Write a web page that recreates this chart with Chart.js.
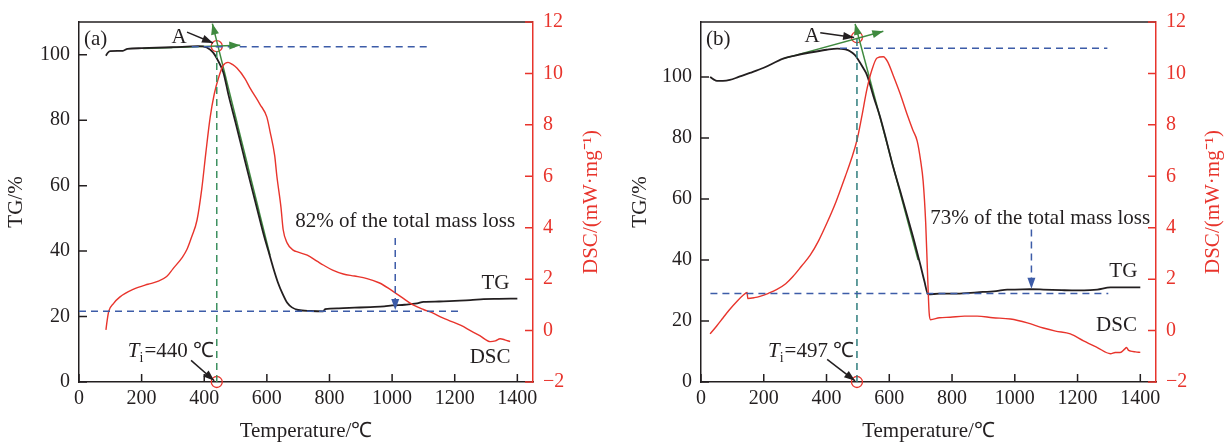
<!DOCTYPE html>
<html lang="en">
<head>
<meta charset="UTF-8">
<title>TG-DSC curves</title>
<script src="https://cdn.jsdelivr.net/npm/chart.js"></script>
<style>
  body { margin: 0; background: #fff; }
  .panel { position: absolute; top: 0; height: 444px; }
  #panelA { left: 0; width: 610px; }
  #panelB { left: 610px; width: 619px; }
</style>
</head>
<body>
<div class="panel" id="panelA"><canvas id="chartA" width="610" height="444"></canvas></div>
<div class="panel" id="panelB"><canvas id="chartB" width="619" height="444"></canvas></div>
<script>
// axis ticks
const tempTicks = [0, 200, 400, 600, 800, 1000, 1200, 1400];
const tgTicks = [0, 20, 40, 60, 80, 100];
const dscTicks = [-2, 0, 2, 4, 6, 8, 10, 12];

// sample (a)
const tempTgA = [86, 92, 100, 140, 155, 200, 300, 380, 408, 428, 444, 461, 478, 500, 524, 550, 570, 590, 605, 620,
  635, 650, 665, 680, 700, 740, 780, 786, 830, 880, 930, 975, 1000, 1040, 1080, 1100, 1150, 1200, 1250, 1292, 1340, 1400];
const tgA = [99.7, 100.6, 101.1, 101.2, 101.8, 102.0, 102.3, 102.6, 102.2, 100.7, 98.2, 94.6, 87.5, 79.3, 70.0, 60.0, 52.5, 45.0, 40.0, 35.0,
  30.5, 27.0, 24.2, 22.8, 22.0, 21.7, 21.6, 22.3, 22.5, 22.7, 22.9, 23.1, 23.4, 23.6, 24.0, 24.5, 24.6, 24.8, 25.0, 25.3, 25.4, 25.5];
const tempDscA = [86, 90, 95, 110, 130, 173, 220, 249, 280, 300, 330, 345, 360, 377, 392, 405, 419, 432, 445, 460,
  476, 490, 505, 530, 546, 578, 600, 610, 625, 632, 645, 652, 665, 684, 700, 729, 760, 780, 810, 844,
  880, 920, 960, 994, 1030, 1067, 1100, 1131, 1160, 1186, 1220, 1250, 1280, 1314, 1330, 1345, 1360, 1377];
const dscA = [0.03, 0.4, 0.75, 1.05, 1.3, 1.6, 1.8, 1.9, 2.1, 2.4, 2.85, 3.16, 3.65, 4.3, 5.5, 6.9, 8.3, 9.2, 9.8, 10.3,
  10.43, 10.35, 10.2, 9.8, 9.44, 8.8, 8.3, 7.75, 6.8, 6.0, 4.8, 3.93, 3.4, 3.13, 3.05, 2.93, 2.7, 2.55, 2.35, 2.2,
  2.12, 2.02, 1.85, 1.6, 1.3, 1.0, 0.82, 0.68, 0.5, 0.37, 0.2, 0.0, -0.2, -0.43, -0.40, -0.32, -0.36, -0.43];
const onsetA = 440;
const pointA_A = 102.6;
const plateauA = [360, 1120, 102.4];
const residueA = [0, 1218, 21.6];
const lossArrowA = [1010, 44, 22];
const steepTangentA = [[610, 38.7], [426, 109.5]];
const flatTangentA = [[205, 101.9], [515, 102.9]];

// sample (b)
const tempTgB = [29, 40, 51, 70, 92, 120, 156, 200, 262, 300, 348, 400, 434, 460, 475, 490, 500, 517, 529, 550,
  571, 590, 612, 635, 657, 680, 699, 712, 724, 760, 816, 880, 940, 976, 1000, 1049, 1091, 1150, 1199, 1240, 1263, 1305, 1350, 1400];
const tgB = [100, 99.2, 98.7, 98.7, 99.0, 100.0, 101.3, 103.0, 106.0, 107.0, 108.0, 108.9, 109.3, 109.0, 108.4, 107.2, 105.8, 102.9, 100.6, 93.5,
  86.8, 79.5, 70.6, 62.5, 54.5, 46.0, 38.4, 33.0, 28.7, 29.0, 29.0, 29.4, 29.8, 30.3, 30.3, 30.4, 30.3, 30.1, 30.0, 30.1, 30.3, 31.0, 31.0, 31.0];
const tempDscB = [29, 50, 70, 90, 115, 135, 147, 149, 170, 188, 215, 242, 270, 293, 320, 348, 375, 402, 430, 460,
  480, 497, 512, 529, 545, 561, 581, 595, 612, 635, 657, 675, 689, 700, 708, 716, 722, 727, 731, 760,
  794, 840, 880, 930, 986, 1040, 1091, 1130, 1177, 1219, 1263, 1305, 1320, 1336, 1350, 1356, 1362, 1369, 1385, 1400];
const dscB = [-0.13, 0.18, 0.49, 0.8, 1.14, 1.38, 1.48, 1.25, 1.28, 1.33, 1.45, 1.6, 1.82, 2.1, 2.5, 2.93, 3.5, 4.2, 5.0, 6.0,
  6.7, 7.4, 8.3, 9.4, 10.15, 10.6, 10.65, 10.45, 9.94, 9.2, 8.4, 7.8, 7.37, 6.6, 5.8, 4.2, 2.2, 0.7, 0.42, 0.5,
  0.52, 0.56, 0.56, 0.5, 0.45, 0.3, 0.1, -0.02, -0.13, -0.4, -0.66, -0.9, -0.85, -0.85, -0.72, -0.66, -0.76, -0.8, -0.83, -0.85];
const onsetB = 497;
const pointA_B = 113;
const plateauB = [443, 1295, 109.4];
const residueB = [30, 1298, 29.0];
const lossArrowB = [1053, 50, 30.6];
const steepTangentB = [[692, 40], [491, 117.4]];
const flatTangentB = [[262, 106], [581, 115]];

const SERIF = '"Liberation Serif", "Times New Roman", serif';
const INK = '#231f20';
const RED = '#e8342c';
const BLUE = '#3d5ca8';
const GREEN = '#3f8a3f';

function pts(xs, ys) {
  return xs.map((x, i) => ({ x: x, y: ys[i] }));
}

function fmt(v) {
  return v < 0 ? '\u2212' + (-v) : String(v);
}

function arrowHead(ctx, x0, y0, x1, y1, len, half, color) {
  const a = Math.atan2(y1 - y0, x1 - x0);
  ctx.save();
  ctx.fillStyle = color;
  ctx.translate(x1, y1);
  ctx.rotate(a);
  ctx.beginPath();
  ctx.moveTo(0, 0);
  ctx.lineTo(-len, -half);
  ctx.lineTo(-len, half);
  ctx.closePath();
  ctx.fill();
  ctx.restore();
}

function arrow(ctx, x0, y0, x1, y1, color) {
  ctx.save();
  ctx.strokeStyle = color;
  ctx.lineWidth = 1.5;
  ctx.beginPath();
  ctx.moveTo(x0, y0);
  ctx.lineTo(x1, y1);
  ctx.stroke();
  ctx.restore();
  arrowHead(ctx, x0, y0, x1, y1, 11, 4, color);
}

// frame, inward ticks, arrows and text labels
function decorations(p) {
  return {
    id: 'decorations',
    afterDraw(chart) {
      const ctx = chart.ctx;
      const area = chart.chartArea;
      const sx = chart.scales.x, sy = chart.scales.y, s2 = chart.scales.y2;
      const X = v => sx.getPixelForValue(v);
      const Y = v => sy.getPixelForValue(v);

      ctx.save();
      ctx.lineWidth = 1.5;
      ctx.strokeStyle = INK;
      ctx.beginPath();
      ctx.moveTo(area.left, area.top);
      ctx.lineTo(area.right, area.top);
      ctx.stroke();

      ctx.beginPath();
      sx.ticks.forEach(t => {
        const x = X(t.value);
        ctx.moveTo(x, area.bottom);
        ctx.lineTo(x, area.bottom - 8);
      });
      sy.ticks.forEach(t => {
        const y = Y(t.value);
        ctx.moveTo(area.left, y);
        ctx.lineTo(area.left + 8, y);
      });
      ctx.stroke();
      ctx.strokeStyle = RED;
      ctx.beginPath();
      s2.ticks.forEach(t => {
        const y = s2.getPixelForValue(t.value);
        ctx.moveTo(area.right, y);
        ctx.lineTo(area.right - 8, y);
      });
      ctx.stroke();
      ctx.restore();

      // tangent arrow tips
      const st = p.steep, ft = p.flat;
      arrowHead(ctx, X(st[0][0]), Y(st[0][1]), X(st[1][0]), Y(st[1][1]), 11, 4, GREEN);
      arrowHead(ctx, X(ft[0][0]), Y(ft[0][1]), X(ft[1][0]), Y(ft[1][1]), 11, 4, GREEN);
      // mass loss arrow tip
      const la = p.lossArrow;
      arrowHead(ctx, X(la[0]), Y(la[1]), X(la[0]), Y(la[2]), 11, 4, BLUE);

      // pointer arrows
      arrow(ctx, X(p.aArrow[0]), Y(p.aArrow[1]), X(p.aArrow[2]), Y(p.aArrow[3]), INK);
      arrow(ctx, X(p.tiArrow[0]), Y(p.tiArrow[1]), X(p.tiArrow[2]), Y(p.tiArrow[3]), INK);

      ctx.save();
      ctx.fillStyle = INK;
      ctx.textBaseline = 'middle';
      ctx.font = '21px ' + SERIF;
      ctx.textAlign = 'left';
      ctx.fillText(p.tag, area.left + 5, area.top + 17);
      ctx.textAlign = 'center';
      ctx.fillText('A', X(p.aText[0]), Y(p.aText[1]));
      ctx.fillText(p.lossText, X(p.lossPos[0]), Y(p.lossPos[1]));
      ctx.fillText('TG', X(p.tgPos[0]), Y(p.tgPos[1]));
      ctx.fillText('DSC', X(p.dscPos[0]), Y(p.dscPos[1]));

      // T_i = onset label
      const rest = '=' + p.onset + ' \u2103';
      const xr = X(p.tiPos[0]), ym = Y(p.tiPos[1]);
      ctx.textAlign = 'left';
      ctx.font = 'italic 21px ' + SERIF;
      const wT = ctx.measureText('T').width;
      ctx.font = '14px ' + SERIF;
      const wI = ctx.measureText('i').width;
      ctx.font = '21px ' + SERIF;
      const wR = ctx.measureText(rest).width;
      let x0 = xr - wT - wI - wR;
      ctx.font = 'italic 21px ' + SERIF;
      ctx.fillText('T', x0, ym);
      ctx.font = '14px ' + SERIF;
      ctx.fillText('i', x0 + wT, ym + 7);
      ctx.font = '21px ' + SERIF;
      ctx.fillText(rest, x0 + wT + wI + 1, ym);

      // right axis title
      ctx.fillStyle = RED;
      ctx.textAlign = 'center';
      ctx.translate(area.right + p.rightTitleOffset, (area.top + area.bottom) / 2);
      ctx.rotate(-Math.PI / 2);
      ctx.fillText('DSC/(mW\u00b7mg\u207b\u00b9)', 0, 0);
      ctx.restore();
    }
  };
}

function line(data, color, width, dash, axis) {
  return {
    data: data, yAxisID: axis || 'y', borderColor: color, borderWidth: width,
    borderDash: dash || [], pointRadius: 0, fill: false
  };
}

function makeChart(id, p) {
  const datasets = [
    line([{ x: p.residue[0], y: p.residue[2] }, { x: p.residue[1], y: p.residue[2] }], BLUE, 1.5, [7, 5]),
    line([{ x: p.plateau[0], y: p.plateau[2] }, { x: p.plateau[1], y: p.plateau[2] }], BLUE, 1.5, [7, 5]),
    line([{ x: p.lossArrow[0], y: p.lossArrow[1] }, { x: p.lossArrow[0], y: p.lossArrow[2] + 3 }], BLUE, 1.5, [7, 5]),
    line([{ x: p.onset, y: 0 }, { x: p.onset, y: p.pointA }], p.onsetColor, 1.5, [7, 5]),
    Object.assign(line(pts(p.tempDsc, p.dsc), RED, 1.4, null, 'y2'), { cubicInterpolationMode: 'monotone' }),
    Object.assign(line(pts(p.tempTg, p.tg), INK, 1.8), { cubicInterpolationMode: 'monotone' }),
    line(p.steep.map(q => ({ x: q[0], y: q[1] })), GREEN, 1.5),
    line(p.flat.map(q => ({ x: q[0], y: q[1] })), GREEN, 1.5),
    {
      data: [{ x: p.onset, y: p.pointA }, { x: p.onset, y: 0 }], yAxisID: 'y', showLine: false, clip: false,
      pointRadius: 5.5, pointStyle: 'circle', pointBorderColor: RED, pointBorderWidth: 1.3,
      pointBackgroundColor: 'rgba(0,0,0,0)'
    }
  ];

  const tickFont = { family: SERIF, size: 20 };
  return new Chart(document.getElementById(id), {
    type: 'line',
    data: { datasets: datasets },
    options: {
      responsive: false,
      animation: false,
      layout: { padding: { top: 16, left: 0, right: 0, bottom: 0 } },
      plugins: { legend: { display: false }, tooltip: { enabled: false } },
      scales: {
        x: {
          type: 'linear', min: 0, max: 1450,
          afterBuildTicks: s => { s.ticks = tempTicks.map(v => ({ value: v })); },
          afterFit: s => { s.height = 62; },
          ticks: { font: tickFont, color: INK, padding: 5, maxRotation: 0, autoSkip: false, callback: fmt },
          grid: { display: false, drawTicks: false },
          border: { display: true, color: INK, width: 1.5 },
          title: { display: true, text: 'Temperature/\u2103', color: INK, font: { family: SERIF, size: 21 }, padding: { top: 0, bottom: 0 } }
        },
        y: {
          position: 'left', min: 0, max: p.tgMax,
          afterBuildTicks: s => { s.ticks = tgTicks.map(v => ({ value: v })); },
          afterFit: s => { s.width = p.leftWidth; },
          ticks: { font: tickFont, color: INK, padding: 9, callback: fmt },
          grid: { display: false, drawTicks: false },
          border: { display: true, color: INK, width: 1.5 },
          title: { display: true, text: 'TG/%', color: INK, font: { family: SERIF, size: 21 }, padding: { top: p.leftTitlePad, bottom: 0 } }
        },
        y2: {
          position: 'right', min: -2, max: 12,
          afterBuildTicks: s => { s.ticks = dscTicks.map(v => ({ value: v })); },
          afterFit: s => { s.width = p.rightWidth; },
          ticks: { font: tickFont, color: RED, padding: 10, callback: fmt },
          grid: { display: false, drawTicks: false },
          border: { display: true, color: RED, width: 1.5 }
        }
      }
    },
    plugins: [decorations(p)]
  });
}

makeChart('chartA', {
  tag: '(a)', tgMax: 110, leftWidth: 79, rightWidth: 77, leftTitlePad: 4, rightTitleOffset: 58,
  tempTg: tempTgA, tg: tgA, tempDsc: tempDscA, dsc: dscA,
  onset: onsetA, pointA: pointA_A, onsetColor: '#3d9160',
  plateau: plateauA, residue: residueA, lossArrow: lossArrowA,
  steep: steepTangentA, flat: flatTangentA,
  aText: [320, 105.4], aArrow: [345, 106.9, 428, 103.6],
  tiPos: [428, 9.3], tiArrow: [358, 6.6, 432, 0.4],
  lossText: '82% of the total mass loss', lossPos: [1042, 49],
  tgPos: [1330, 30], dscPos: [1313, 7.5]
});

makeChart('chartB', {
  tag: '(b)', tgMax: 118, leftWidth: 91, rightWidth: 73, leftTitlePad: 18, rightTitleOffset: 57,
  tempTg: tempTgB, tg: tgB, tempDsc: tempDscB, dsc: dscB,
  onset: onsetB, pointA: pointA_B, onsetColor: '#2f7d7d',
  plateau: plateauB, residue: residueB, lossArrow: lossArrowB,
  steep: steepTangentB, flat: flatTangentB,
  aText: [354, 113.2], aArrow: [380, 114.5, 488, 112.9],
  tiPos: [485, 10], tiArrow: [402, 7.4, 491, 0.4],
  lossText: '73% of the total mass loss', lossPos: [1081, 53.5],
  tgPos: [1346, 36.1], dscPos: [1324, 18.4]
});
</script>
</body>
</html>
